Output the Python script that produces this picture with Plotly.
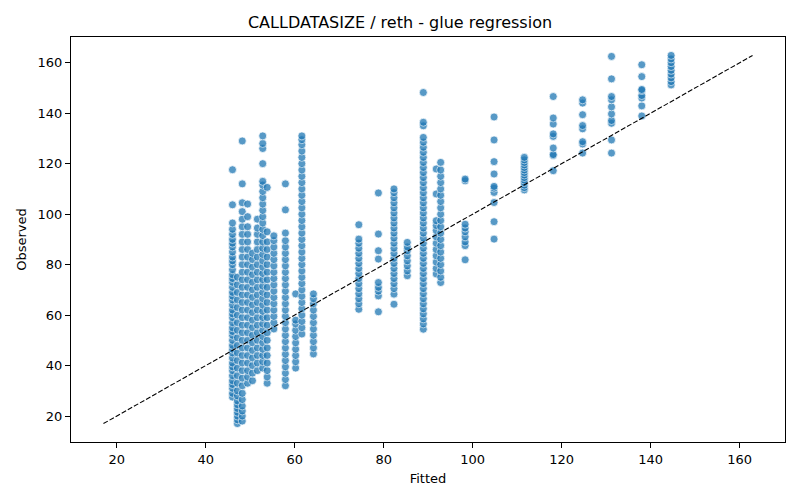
import plotly.graph_objects as go

# fitted value of each column of points
fitted_levels = [
    46.0, 47.1, 48.2, 49.4, 50.5, 51.6, 52.8, 53.8, 55.3, 57.9, 60.2, 61.6, 64.2,
    74.4, 78.8, 82.3, 85.3, 88.9, 91.8, 92.8, 98.3,
    104.8, 111.6, 118.1, 124.7, 131.2, 138.0, 144.6,
]

# observed values for each column (same order as fitted_levels)
observed_by_level = [
    [27.5, 29, 31, 32.5, 34, 36, 38, 39.5, 41, 43, 45, 46.5, 48, 50, 52, 53.5, 55, 57, 59, 60.5,
     62, 64, 66, 67.5, 69, 71, 73, 74.5, 76, 78, 80, 81.5, 83, 85, 87, 88.5, 90, 92, 94, 96.5,
     103.7, 117.6],
    [17, 18.5, 20, 21.5, 23, 24.5, 26, 28, 30, 33, 36, 39, 42, 45, 48, 51, 54, 57, 60, 63, 66,
     69, 72, 75],
    [18, 20, 22, 24, 26.5, 29, 32, 35, 38, 41, 44, 47, 50, 53, 56, 59, 62, 65, 68, 71, 74, 77,
     80, 83, 86, 89, 92, 95, 98, 101, 104.5, 112, 129],
    [33, 35.5, 38, 41, 44, 47, 50, 53, 56, 59, 62, 65, 68, 71, 74, 77, 80, 83, 86, 89, 92, 95,
     99, 104],
    [34, 37, 40, 43, 46, 49, 52, 55, 58, 61, 64, 67, 70, 73, 76, 79, 82, 84.5],
    [38, 41, 44, 47, 50, 53, 56, 59, 62, 65, 68, 71, 74, 77, 80, 83, 86, 89, 92, 94.5, 98],
    [39, 41.5, 44, 46.5, 49, 51.5, 54, 56.5, 59, 61.5, 64, 66.5, 69, 71.5, 74, 76.5, 79, 81.5,
     84, 86.5, 89, 91.5, 94, 96.5, 99, 101.5, 104, 106.5, 109, 111.5, 113, 120, 126, 128, 131],
    [33, 35.5, 38, 41, 44, 47, 50, 53, 56, 59, 62, 65, 68, 71, 74, 77, 80, 83, 86, 89, 93, 110.6],
    [54.5, 57, 59.5, 62, 64.5, 67, 69.5, 72, 74.5, 77, 79.5, 82, 84.5, 87, 89.5, 91.4],
    [32, 34.5, 37, 39.5, 42, 44.5, 47, 49.5, 52, 54.5, 57, 59.5, 62, 64.5, 67, 69.5, 72, 74.5,
     77, 79.5, 82, 84.5, 87, 89.5, 92.5, 101.7, 112],
    [39, 41.5, 44, 46.5, 49, 51.5, 54, 56.5, 58, 68.4],
    [52.5, 55, 57.5, 60, 62.5, 65, 67.5, 70, 72.5, 75, 77.5, 80, 82.5, 85, 87.5, 90, 92.5, 95,
     97.5, 100, 102.5, 105, 107.5, 110, 112.5, 115, 117.5, 120, 122.5, 125, 127.5, 129.5, 131],
    [44.6, 47, 49.5, 52, 54.5, 57, 59.5, 62, 64.5, 66.5, 68.4],
    [62.3, 64.5, 66.5, 68.5, 70.5, 72.5, 74.5, 76.5, 78.5, 80.5, 82.5, 84.5, 86.5, 88.5, 90.1, 95.8],
    [61.3, 67.6, 69.5, 71, 72.9, 82.2, 85.5, 92.1, 108.4],
    [64.3, 68.3, 70.5, 72.5, 74.5, 76.5, 78.5, 80.5, 82.5, 84.5, 86.5, 88.5, 90.5, 92.5, 94.5,
     96.5, 98.5, 100.5, 102.5, 104.5, 106.5, 108.5, 110],
    [75.6, 77.5, 79.5, 81.5, 83.5, 85.5, 87, 88.8],
    [54.4, 56.5, 58.5, 60.5, 62.5, 64.5, 66.5, 68.5, 70.5, 72.5, 74.5, 76.5, 78.5, 80.5, 82.5,
     84.5, 86.5, 88.5, 90.5, 92.5, 94.5, 96.5, 98.5, 100.5, 102.5, 104.5, 106.5, 108.5, 110.5,
     112.5, 114.5, 116.5, 118.5, 120.5, 122.5, 124.5, 126.5, 128.5, 130.4, 135, 136.4, 148.2],
    [76.3, 78.5, 81, 83.5, 86, 88.5, 91, 93.5, 95.5, 97.4, 108, 117.9],
    [72.9, 75, 77.5, 80, 82.5, 85, 87.5, 90, 92.5, 95, 97.5, 100, 102.5, 105, 107.5, 110, 112.5,
     115, 117.5, 120.5],
    [81.9, 87.5, 89, 91, 93, 94.5, 96, 113.2, 113.9],
    [90.1, 97, 104.6, 108.6, 110.3, 111, 115.9, 120.8, 129.4, 138.5],
    [109.6, 110.5, 111.5, 112.5, 113.5, 114.5, 115.5, 116.5, 117.5, 118.5, 119.5, 120.5, 121.5, 122.5],
    [117.2, 123.2, 123.6, 126.2, 130.8, 131.8, 135.7, 138.1, 146.6],
    [124.2, 127.8, 128.7, 133.8, 135.1, 139.4, 144, 145.3],
    [124.2, 129.4, 136, 137.1, 139.7, 142.5, 145.3, 146.6, 153.6, 162.5],
    [138.9, 142.9, 146, 147, 149, 149.4, 154.5, 159.2],
    [151.2, 152.5, 154, 155.5, 157, 158.5, 160, 161.5, 162.9],
]

# platten lijst van punten
fitted = []
observed = []
for fx, ys in zip(fitted_levels, observed_by_level):
    for y in ys:
        fitted.append(fx)
        observed.append(y)

lo = min(observed)
hi = max(observed)
pad = 0.05 * (hi - lo)
rng = [lo - pad, hi + pad]

fig = go.Figure()

fig.add_trace(go.Scatter(
    x=fitted,
    y=observed,
    mode='markers',
    marker=dict(size=8, color='#1f77b4', opacity=0.75,
                line=dict(color='white', width=0.75)),
    showlegend=False,
))

# y = x referentielijn
fig.add_trace(go.Scatter(
    x=[lo, hi],
    y=[lo, hi],
    mode='lines',
    line=dict(color='black', width=1.1, dash='5px,2px'),
    showlegend=False,
))

axis_style = dict(
    range=rng,
    tick0=0,
    dtick=20,
    ticks='outside',
    ticklen=5,
    tickcolor='black',
    showline=True,
    linecolor='black',
    linewidth=1,
    mirror=True,
    showgrid=False,
    zeroline=False,
    automargin=False,
    tickfont=dict(size=13, color='black'),
)

fig.update_layout(
    width=800,
    height=500,
    margin=dict(l=71, r=15, t=37, b=58),
    plot_bgcolor='white',
    paper_bgcolor='white',
    font=dict(family='DejaVu Sans', color='black'),
    title=dict(text='CALLDATASIZE / reth - glue regression', x=0.5, xanchor='center',
               y=1 - 22 / 500, yanchor='middle', font=dict(size=16)),
    xaxis=dict(axis_style, title=dict(text='Fitted', font=dict(size=13), standoff=8)),
    yaxis=dict(axis_style, title=dict(text='Observed', font=dict(size=13), standoff=8)),
)

# standaard body-marge van de pagina weghalen
fig.write_html("out.html", config={'displayModeBar': False},
               post_script="document.body.style.margin='0';")
